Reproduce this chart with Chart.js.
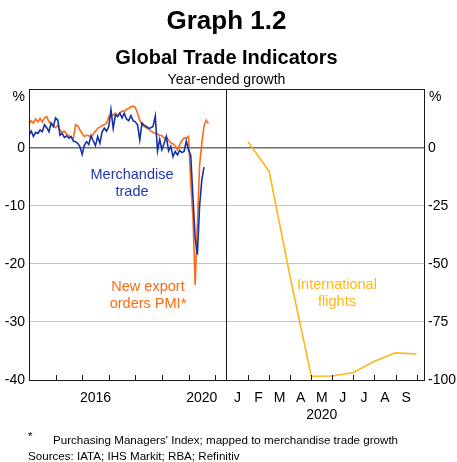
<!DOCTYPE html>
<html>
<head>
<meta charset="utf-8">
<script src="https://cdn.jsdelivr.net/npm/chart.js@4.4.0/dist/chart.umd.min.js"></script>
<style>
  html, body { margin: 0; padding: 0; background: #fff; }
  #wrap { position: relative; width: 457px; height: 462px; overflow: hidden;
          font-family: 'Liberation Sans', Arial, sans-serif; color: #000; }
  #wrap canvas { position: absolute; left: 0; top: 0; }
  .t { position: absolute; white-space: nowrap; }
  .c { text-align: center; }
</style>
</head>
<body>
<div id="wrap">
  <canvas id="chart" width="457" height="462"></canvas>
  <div class="t c" style="left:0;width:453px;top:7px;font-size:26px;line-height:26px;font-weight:bold;">Graph 1.2</div>
  <div class="t c" style="left:0;width:453px;top:47px;font-size:20px;line-height:20px;font-weight:bold;">Global Trade Indicators</div>
  <div class="t c" style="left:0;width:453px;top:72px;font-size:14px;line-height:14px;">Year-ended growth</div>
  <div class="t" style="right:432px;top:89px;font-size:14px;line-height:14px;">%</div>
  <div class="t" style="left:429px;top:89px;font-size:14px;line-height:14px;">%</div>
  <div class="t c" style="left:62px;width:140px;top:166px;font-size:14.5px;line-height:17.4px;color:#2238ae;">Merchandise<br>trade</div>
  <div class="t c" style="left:78px;width:140px;top:278px;font-size:14.5px;line-height:17.4px;color:#ff6a13;">New export<br>orders PMI*</div>
  <div class="t c" style="left:267px;width:140px;top:276px;font-size:14.5px;line-height:17.4px;color:#ffb619;">International<br>flights</div>
  <div class="t" style="left:28px;top:430px;font-size:11.6px;line-height:11.6px;">*</div>
  <div class="t" style="left:53px;top:433.5px;font-size:11.6px;line-height:11.6px;">Purchasing Managers' Index; mapped to merchandise trade growth</div>
  <div class="t" style="left:28px;top:450px;font-size:11.6px;line-height:11.6px;">Sources: IATA; IHS Markit; RBA; Refinitiv</div>
</div>
<script>
// Monthly series, first value is January 2014 (year-ended growth, %)
const startYear = 2014;
const merchTrade = [
  2.2, 2.9, 2.0, 2.7, 2.5, 3.1, 2.8, 4.0, 3.5, 2.8, 4.3, 3.7,
  5.2, 4.8, 2.2, 2.5, 1.8, 2.1, 1.7, 2.0, 1.2, 1.1, 0.8, 0.2,
  -1.1, 0.5, 1.1, 0.6, 2.1, 1.2, 0.4, 2.0, 0.8, 2.8, 3.4, 2.9,
  3.7, 6.6, 3.4, 5.7, 5.4, 6.0, 5.2, 6.0, 5.0, 4.7, 5.6, 4.7,
  4.5, 4.0, 1.4, 4.3, 3.9, 3.7, 3.4, 3.5, 3.7, 5.5, -0.5, 1.5,
  -0.3, 0.8, 2.0, -0.5, 0.3, -1.5, -0.6, -1.2, -0.4, -0.8, -0.6, 1.2,
  -0.3, -1.3, -8.5, -15.5, -18.4, -10.0, -5.5, -3.3
];
const exportOrdersPmi = [
  4.1, 4.7, 4.3, 5.0, 4.5, 5.1, 4.5, 5.2, 5.4, 4.5, 4.1, 3.9,
  3.5, 3.9, 3.1, 2.7, 2.9, 2.4, 2.1, 1.8, 1.6, 4.0, 3.8, 3.1,
  2.5, 2.0, 2.2, 2.1, 1.8, 2.4, 2.9, 3.4, 3.6, 3.9, 4.0, 4.3,
  5.4, 5.6, 5.7, 6.0, 5.6, 6.0, 6.4, 6.3, 6.7, 6.8, 7.1, 7.2,
  7.0, 6.0, 4.8, 4.0, 3.7, 3.5, 3.3, 2.9, 2.7, 2.5, 2.4, 2.2,
  2.1, 1.7, 1.9, 1.3, 0.9, 0.7, 0.4, -0.3, 0.5, 1.3, 1.7, 1.7,
  2.0, -6.0, -12.0, -23.6, -13.0, -3.0, 0.8, 3.8, 4.8, 4.2
];

// 2020, Jan to Sep
const flightMonths = ['J', 'F', 'M', 'A', 'M', 'J', 'J', 'A', 'S'];
const intlFlights = [2.7, -10.1, -55.8, -98.4, -98.3, -96.8, -91.9, -88.3, -88.8];

const leftTicks = [-40, -30, -20, -10, 0];
const rightTicks = [-100, -75, -50, -25, 0];
const yearTicks = [2015, 2016, 2017, 2018, 2019, 2020, 2021];
const yearLabels = [2016, 2020];
const monthTicks = [1, 2, 3, 4, 5, 6, 7, 8, 9];

const BLUE = '#1432a8';
const ORANGE = '#ff6a13';
const AMBER = '#ffb619';

function monthly(values) {
  return values.map((v, i) => ({ x: startYear + i / 12, y: v }));
}

// box around both panels, divider, and tick marks pointing into the plot
const framePlugin = {
  id: 'frame',
  afterDraw(chart) {
    const { ctx, chartArea: a, scales } = chart;
    ctx.save();
    ctx.strokeStyle = '#1a1a1a';
    ctx.lineWidth = 1;
    ctx.beginPath();
    yearTicks.forEach(v => {
      const px = Math.round(scales.x.getPixelForValue(v)) + 0.5;
      ctx.moveTo(px, a.bottom);
      ctx.lineTo(px, a.bottom - 5);
    });
    monthTicks.forEach(v => {
      const px = Math.round(scales.x2.getPixelForValue(v)) + 0.5;
      ctx.moveTo(px, a.bottom);
      ctx.lineTo(px, a.bottom - 5);
    });
    const mid = Math.round(scales.x2.left) + 0.5;
    ctx.moveTo(mid, a.top);
    ctx.lineTo(mid, a.bottom);
    ctx.stroke();
    ctx.strokeRect(Math.round(a.left) + 0.5, Math.round(a.top) + 0.5,
                   Math.round(a.width) - 1, Math.round(a.height));
    ctx.restore();
  }
};

Chart.defaults.font.family = "'Liberation Sans', Arial, sans-serif";
Chart.defaults.font.size = 14;
Chart.defaults.color = '#000';

new Chart(document.getElementById('chart'), {
  type: 'line',
  data: {
    datasets: [
      {
        label: 'Merchandise trade',
        data: monthly(merchTrade),
        xAxisID: 'x', yAxisID: 'y',
        borderColor: BLUE, borderWidth: 1.6,
        pointRadius: 0, tension: 0
      },
      {
        label: 'New export orders PMI*',
        data: monthly(exportOrdersPmi),
        xAxisID: 'x', yAxisID: 'y',
        borderColor: ORANGE, borderWidth: 1.6,
        pointRadius: 0, tension: 0
      },
      {
        label: 'International flights',
        data: intlFlights.map((v, i) => ({ x: i + 1, y: v })),
        xAxisID: 'x2', yAxisID: 'y2',
        borderColor: AMBER, borderWidth: 1.6,
        pointRadius: 0, tension: 0
      }
    ]
  },
  options: {
    responsive: false,
    animation: false,
    devicePixelRatio: 1,
    layout: { padding: { top: 89, bottom: 41, left: 0, right: 0 } },
    plugins: { legend: { display: false }, tooltip: { enabled: false } },
    scales: {
      x: {
        type: 'linear', position: 'bottom',
        stack: 'panels', stackWeight: 197,
        min: 2014, max: 2021.41,
        grid: { display: false, drawTicks: false }, border: { display: false },
        afterBuildTicks: s => { s.ticks = yearLabels.map(y => ({ value: y + 0.5 })); },
        ticks: { autoSkip: false, maxRotation: 0, padding: 10,
                 callback: v => String(Math.floor(v)) },
        afterFit: s => { s.height = 41; }
      },
      x2: {
        type: 'linear', position: 'bottom',
        stack: 'panels', stackWeight: 199,
        min: -0.05, max: 9.4,
        grid: { display: false, drawTicks: false }, border: { display: false },
        afterBuildTicks: s => { s.ticks = flightMonths.map((m, i) => ({ value: i + 0.5 })); },
        ticks: { autoSkip: false, maxRotation: 0, padding: 10,
                 callback: (v, i) => i === 4 ? [flightMonths[i], '2020'] : flightMonths[i] },
        afterFit: s => { s.height = 41; }
      },
      y: {
        position: 'left',
        min: -40, max: 10.17,
        afterBuildTicks: s => { s.ticks = leftTicks.map(v => ({ value: v })); },
        grid: {
          drawTicks: false,
          color: c => c.tick.value === 0 ? '#6e6e6e' : '#c4c4c4',
          lineWidth: c => c.tick.value === 0 ? 1.6 : 1
        },
        border: { display: false },
        ticks: { padding: 4 },
        afterFit: s => { s.width = 29; }
      },
      y2: {
        position: 'right',
        min: -100, max: 25.43,
        afterBuildTicks: s => { s.ticks = rightTicks.map(v => ({ value: v })); },
        grid: { display: false, drawTicks: false },
        border: { display: false },
        ticks: { padding: 3 },
        afterFit: s => { s.width = 32; }
      }
    }
  },
  plugins: [framePlugin]
});
</script>
</body>
</html>
